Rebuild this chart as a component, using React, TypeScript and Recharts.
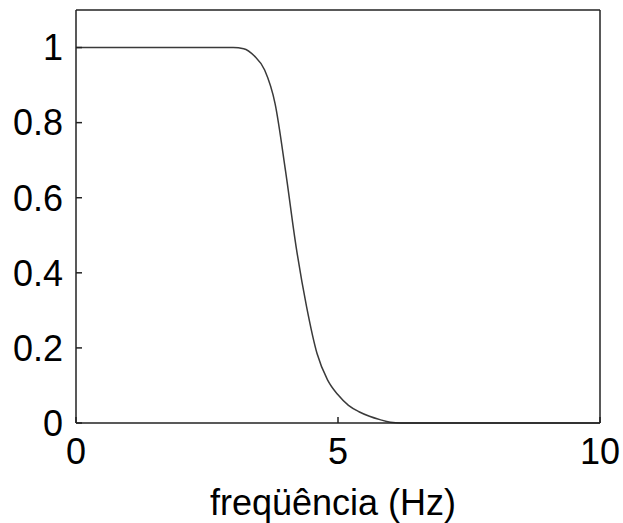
import { LineChart, Line, XAxis, YAxis, Label } from "recharts";

const freq = [0, 3.0, 3.2, 3.4, 3.6, 3.8, 4.0, 4.2, 4.4, 4.6, 4.8, 5.0, 5.2, 5.4, 5.6, 5.8, 6.0, 6.2, 10];
const gain = [1, 1, 0.997, 0.978, 0.94, 0.85, 0.67, 0.47, 0.31, 0.185, 0.115, 0.075, 0.047, 0.03, 0.018, 0.009, 0.002, 0, 0];
const xTicks = [0, 5, 10];
const yTicks = [0, 0.2, 0.4, 0.6, 0.8, 1];

const data = freq.map((f, i) => ({ f, g: gain[i] }));

const font = { fontFamily: "'Liberation Sans', Arial, sans-serif", fontSize: 36, fill: "#000" };
const axisStroke = { stroke: "#222", strokeWidth: 1.5 };

export default function App() {
  return (
    <div style={{ position: "absolute", left: 0, top: 0 }}>
      <LineChart
        width={623}
        height={523}
        data={data}
        margin={{ top: 9, right: 22, left: 0, bottom: 0 }}
      >
        <XAxis
          dataKey="f"
          type="number"
          domain={[0, 10]}
          ticks={xTicks}
          height={100}
          tickSize={-6}
          tickMargin={21}
          tick={font}
          axisLine={axisStroke}
          tickLine={axisStroke}
        >
          <Label
            value="freqüência (Hz)"
            position="insideBottom"
            offset={8}
            dx={-5}
            style={font}
          />
        </XAxis>
        <XAxis
          xAxisId="top"
          orientation="top"
          type="number"
          domain={[0, 10]}
          ticks={xTicks}
          height={1}
          tickSize={-6}
          tick={false}
          axisLine={axisStroke}
          tickLine={axisStroke}
        />
        <YAxis
          type="number"
          domain={[0, 1.1]}
          ticks={yTicks}
          width={76}
          tickSize={-6}
          tickMargin={19}
          tick={font}
          axisLine={axisStroke}
          tickLine={axisStroke}
        />
        <YAxis
          yAxisId="right"
          orientation="right"
          type="number"
          domain={[0, 1.1]}
          ticks={yTicks}
          width={1}
          tickSize={-6}
          tick={false}
          axisLine={axisStroke}
          tickLine={axisStroke}
        />
        <Line
          dataKey="g"
          type="monotone"
          stroke="#3a3a3a"
          strokeWidth={1.5}
          dot={false}
          isAnimationActive={false}
        />
      </LineChart>
    </div>
  );
}
